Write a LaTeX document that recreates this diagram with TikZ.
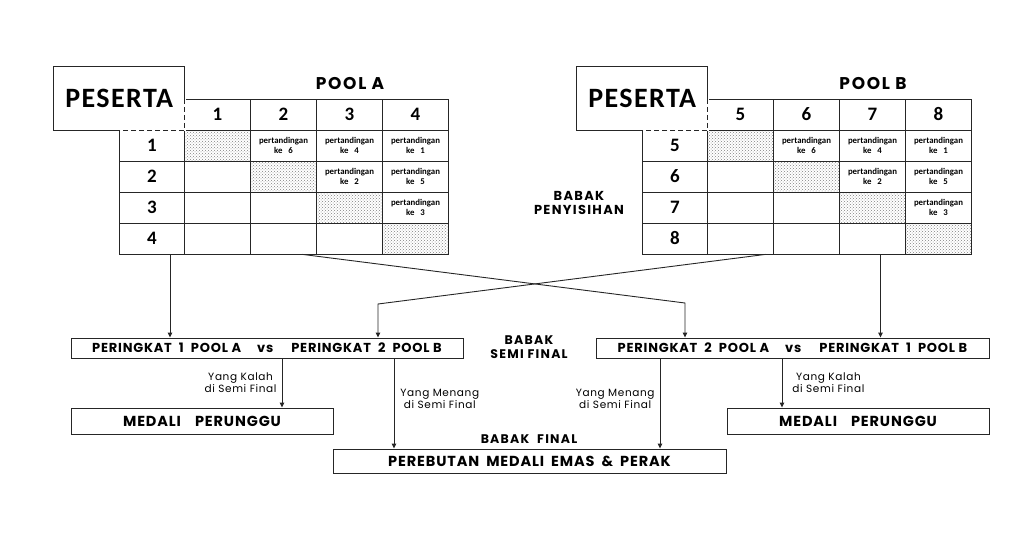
\documentclass[tikz,border=0pt]{standalone}
\usepackage{fontspec}
\setmainfont{Carlito}
\newfontfamily\calwide[LetterSpace=5]{Carlito}
\newfontfamily\gothic[LetterSpace=6]{Poppins}
\newfontfamily\gothicwide[LetterSpace=10]{Poppins}
\usetikzlibrary{arrows.meta,positioning,patterns}

\begin{document}
\begin{tikzpicture}[
  x=1pt, y=-1pt,
  cell/.style={draw=black!85, line width=0.8pt, minimum width=66pt, minimum height=31pt, inner sep=0pt, font=\bfseries\fontsize{19}{19}\selectfont},
  dotcell/.style={cell, pattern=crosshatch dots, pattern color=black!50},
  match/.style={align=center, inner sep=0pt, font=\bfseries\fontsize{8.8}{10}\selectfont},
  pes/.style={minimum width=130.5pt, minimum height=63pt, inner sep=0pt, font=\calwide\bfseries\fontsize{28}{28}\selectfont},
  title/.style={font=\gothicwide\bfseries\fontsize{17}{17}\selectfont},
  stage/.style={align=center, inner sep=0pt, font=\gothicwide\bfseries\fontsize{12.5}{13.5}\selectfont},
  box/.style={draw=black!85, line width=0.9pt, inner sep=0pt, font=\gothic\bfseries\fontsize{13}{13}\selectfont},
  lbl/.style={align=center, inner sep=0pt, font=\gothic\fontsize{10.5}{12}\selectfont},
  pf/.style={draw=black!85, line width=0.9pt, -{Triangle[length=5pt,width=4.5pt]}}
]
\useasboundingbox (0,0) rectangle (1024,551);

% the two pools
\foreach \p/\dx/\k in {A/0/0,B/523/4}{
\begin{scope}[xshift=\dx]
  \node[pes] (\p-pes) at (119.25,98.5) {PESERTA};
  \node[minimum width=65pt, minimum height=31pt, inner sep=0pt] (\p-h0) at (152,114.5) {};
  \node[title] (\p-title) at (350,84) {POOL \p};
  \foreach \c in {1,...,4}{
    \pgfmathtruncatemacro{\lbl}{\c+\k}
    \node[cell] (\p-h\c) at (217.5+66*\c-66,114.5) {\lbl};
  }
  \foreach \r in {1,...,4}{
    \pgfmathtruncatemacro{\lbl}{\r+\k}
    \node[cell, minimum width=65pt] (\p-r\r) at (152,114.5+31*\r) {\lbl};
    \foreach \c in {1,...,4}{
      \ifnum\c=\r
        \node[dotcell] (\p-r\r-\c) at (217.5+66*\c-66,114.5+31*\r) {};
      \else
        \node[cell] (\p-r\r-\c) at (217.5+66*\c-66,114.5+31*\r) {};
      \fi
    }
  }
  \foreach \r/\c/\m in {1/2/6,1/3/4,1/4/1,2/3/2,2/4/5,3/4/3}
    \node[match] (\p-m\r\c) at (\p-r\r-\c) {pertandingan\\ke\ \ \ \m};
  % peserta box, dashed corner
  \draw[black!85, line width=0.8pt] (\p-h0.south west) -- (\p-pes.south west) -- (\p-pes.north west) -- (\p-pes.north east) -- (\p-h0.north east);
  \draw[white, line width=2pt] (\p-h0.north east) -- (\p-h0.south east) -- (\p-h0.south west);
  \draw[black!85, line width=1.4pt, dash pattern=on 5pt off 3pt] (\p-h0.north east) -- (\p-h0.south east) -- (\p-h0.south west);
\end{scope}}

\node[stage, font=\gothicwide\bfseries\fontsize{13}{14}\selectfont] (penyisihan) at (579,203) {BABAK\\PENYISIHAN};

% semi final and final
\node[box, minimum width=392pt, minimum height=20pt] (semiA) at (267,348) {PERINGKAT\ \ 1\ \ POOL A\hspace{16pt}vs\hspace{18pt}PERINGKAT\ \ 2\ \ POOL B};
\node[box, minimum width=393pt, minimum height=20pt] (semiB) at (792.5,348) {PERINGKAT\ \ 2\ \ POOL A\hspace{16pt}vs\hspace{18pt}PERINGKAT\ \ 1\ \ POOL B};
\node[stage] (semifinal) at (529,347) {BABAK\\SEMI FINAL};
\node[box, minimum width=262pt, minimum height=26pt, font=\gothic\bfseries\fontsize{14.5}{14.5}\selectfont] (medA) at (202,421) {MEDALI\hspace{14pt}PERUNGGU};
\node[box, minimum width=262pt, minimum height=26pt, font=\gothic\bfseries\fontsize{14.5}{14.5}\selectfont] (medB) at (858,421) {MEDALI\hspace{14pt}PERUNGGU};
\node[box, minimum width=393pt, minimum height=24pt, font=\gothic\bfseries\fontsize{14.5}{14.5}\selectfont] (final) at (529.5,461) {PEREBUTAN\hspace{7pt}MEDALI\hspace{7pt}EMAS\hspace{7pt}\&\hspace{7pt}PERAK};
\node[stage] (finaltitle) at (529,439) {BABAK\ \ FINAL};

\coordinate (bendB) at (685,303);
\coordinate (bendA) at (378,304);

\draw[pf] ([xshift=18pt]A-r4.south) -- ([xshift=18pt]A-r4.south |- semiA.north);
\draw[pf] ([xshift=19pt]A-r4-2.south) -- (bendB) -- (bendB |- semiB.north);
\draw[pf] ([xshift=25pt]B-r4-1.south) -- (bendA) -- (bendA |- semiA.north);
\draw[pf] ([xshift=8pt]B-r4-3.south) -- ([xshift=8pt]B-r4-3.south |- semiB.north);

\draw[pf] ([xshift=15pt]semiA.south) -- ([xshift=15pt]semiA.south |- medA.north) node[lbl, midway, left=5pt] (kalahA) {Yang Kalah\\di Semi Final};
\draw[pf] ([xshift=127pt]semiA.south) -- ([xshift=127pt]semiA.south |- final.north) node[lbl, pos=0.45, right=6pt] (menangA) {Yang Menang\\di Semi Final};
\draw[pf] ([xshift=-132.5pt]semiB.south) -- ([xshift=-132.5pt]semiB.south |- final.north) node[lbl, pos=0.45, left=5pt] (menangB) {Yang Menang\\di Semi Final};
\draw[pf] ([xshift=-10.5pt]semiB.south) -- ([xshift=-10.5pt]semiB.south |- medB.north) node[lbl, midway, right=10pt] (kalahB) {Yang Kalah\\di Semi Final};
\end{tikzpicture}
\end{document}
